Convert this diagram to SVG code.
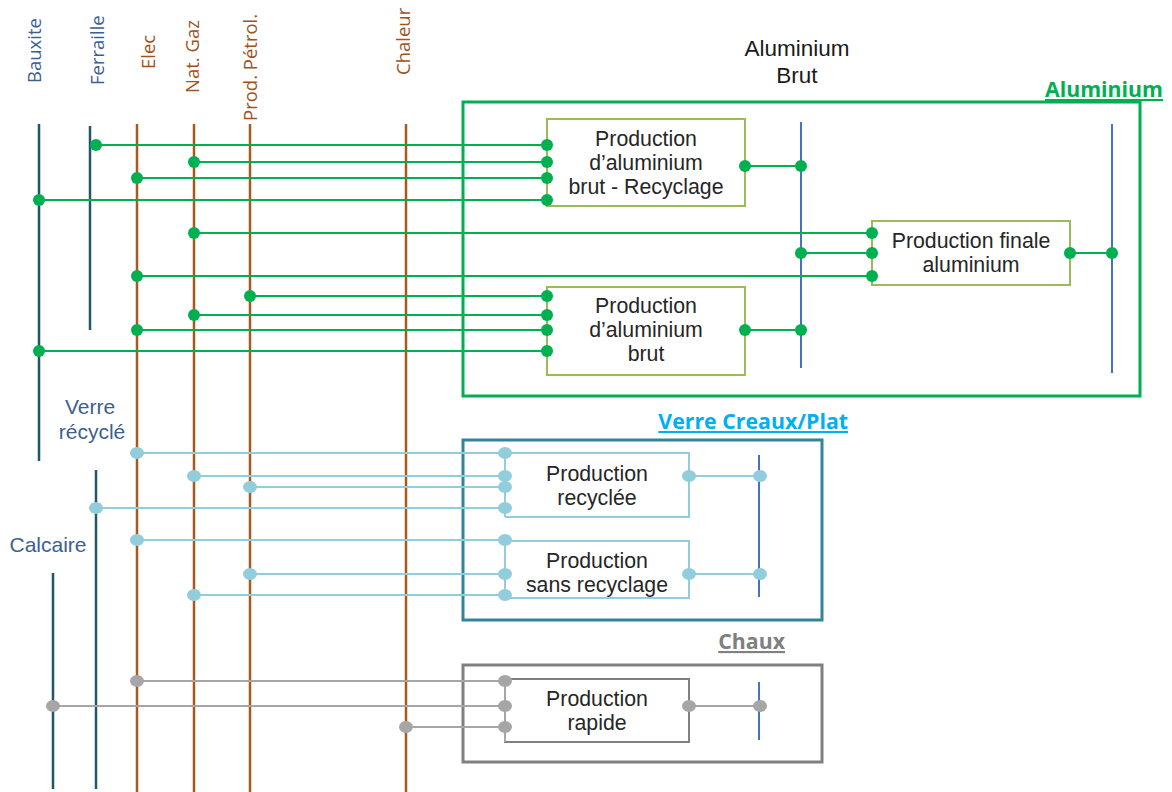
<svg xmlns="http://www.w3.org/2000/svg" width="1172" height="792" viewBox="0 0 1172 792">
<style>
text{font-family:"Open Sans","Liberation Sans",sans-serif}
.lbl{font-size:18.5px}
.mat{fill:#3D5F91}
.nrg{fill:#A0521B}
.side{font-family:"Liberation Sans",Arial,sans-serif;font-size:21px;fill:#3D5F91;text-anchor:middle}
.box{font-family:"Liberation Sans",Arial,sans-serif;font-size:21.3px;fill:#262626;text-anchor:middle}
.ab{font-family:"Liberation Sans",Arial,sans-serif;font-size:22.5px;fill:#1a1a1a;text-anchor:middle}
.hdr{font-size:21.3px;font-weight:bold;text-anchor:end;text-decoration:underline}
.vm{stroke:#215868;stroke-width:2.5}
.ve{stroke:#A65A1E;stroke-width:2.5}
.bus{stroke:#4472C4;stroke-width:2}
.g{stroke:#00B050;stroke-width:2;fill:none}
.b{stroke:#92CDDC;stroke-width:2;fill:none}
.y{stroke:#A6A6A6;stroke-width:2;fill:none}
.gd{fill:#00B050}
.bd{fill:#92CDDC}
.yd{fill:#A6A6A6}
</style>
<rect width="1172" height="792" fill="#fff"/>

<g id="resources">
<line class="vm" x1="39" y1="124" x2="39" y2="461"/>
<line class="vm" x1="90" y1="126" x2="90" y2="330"/>
<line class="ve" x1="137" y1="124" x2="137" y2="792"/>
<line class="ve" x1="194" y1="124" x2="194" y2="792"/>
<line class="ve" x1="250" y1="124" x2="250" y2="792"/>
<line class="ve" x1="406" y1="124" x2="406" y2="792"/>
<line class="vm" x1="96" y1="470" x2="96" y2="789"/>
<line class="vm" x1="53" y1="573" x2="53" y2="789"/>
<text class="lbl mat" transform="translate(41,83) rotate(-90)">Bauxite</text>
<text class="lbl mat" transform="translate(104,85) rotate(-90)">Ferraille</text>
<text class="lbl nrg" transform="translate(155,69) rotate(-90)">Elec</text>
<text class="lbl nrg" transform="translate(199,93) rotate(-90)">Nat. Gaz</text>
<text class="lbl nrg" transform="translate(257,121) rotate(-90)">Prod. Pétrol.</text>
<text class="lbl nrg" transform="translate(410,75) rotate(-90)">Chaleur</text>
<text class="side" x="90" y="414">Verre<tspan x="92" dy="25">récyclé</tspan></text>
<text class="side" x="48" y="552">Calcaire</text>
</g>

<g id="aluminium">
<rect x="463" y="102" width="677" height="294" fill="none" stroke="#00B050" stroke-width="3"/>
<text class="hdr" x="1163" y="97" fill="#00B050">Aluminium</text>
<text class="ab" x="797" y="56">Aluminium<tspan x="797" dy="27">Brut</tspan></text>
<line class="bus" x1="801" y1="122" x2="801" y2="368"/>
<line class="bus" x1="1112" y1="124" x2="1112" y2="373"/>
</g>
<g id="prod-alu-recyclage">
<rect x="547" y="119" width="198" height="87" fill="#fff" stroke="#9BBB59" stroke-width="2"/>
<text class="box" x="646" y="146">Production<tspan x="646" dy="24">d’aluminium</tspan><tspan x="646" dy="24">brut - Recyclage</tspan></text>
</g>
<g id="prod-finale-alu">
<rect x="872" y="221" width="198" height="64" fill="#fff" stroke="#9BBB59" stroke-width="2"/>
<text class="box" x="971" y="248">Production finale<tspan x="971" dy="24">aluminium</tspan></text>
</g>
<g id="prod-alu-brut">
<rect x="547" y="287" width="198" height="88" fill="#fff" stroke="#9BBB59" stroke-width="2"/>
<text class="box" x="646" y="313">Production<tspan x="646" dy="24">d’aluminium</tspan><tspan x="646" dy="24">brut</tspan></text>
</g>

<g id="verre">
<rect x="463" y="440" width="359" height="180" fill="none" stroke="#31849B" stroke-width="3"/>
<text class="hdr" x="848" y="429" fill="#00B0F0">Verre Creaux/Plat</text>
<line class="bus" x1="759" y1="455" x2="759" y2="597"/>
</g>
<g id="prod-recyclee">
<polyline class="b" points="505,453 689,453 689,517 505,517"/>
<text class="box" x="597" y="481">Production<tspan x="597" dy="24">recyclée</tspan></text>
</g>
<g id="prod-sans-recyclage">
<polyline class="b" points="505,541 689,541 689,598 505,598"/>
<text class="box" x="597" y="568">Production<tspan x="597" dy="24">sans recyclage</tspan></text>
</g>

<g id="chaux">
<rect x="463" y="665" width="359" height="97" fill="none" stroke="#808080" stroke-width="3"/>
<text class="hdr" x="785" y="649" fill="#808080">Chaux</text>
<line class="bus" x1="759" y1="682" x2="759" y2="740"/>
</g>
<g id="prod-rapide">
<rect x="505" y="679" width="184" height="63" fill="#fff" stroke="#808080" stroke-width="2"/>
<text class="box" x="597" y="706">Production<tspan x="597" dy="24">rapide</tspan></text>
</g>

<g id="connectors">
<path class="g" d="M96 145H547M194 162H547M137 178H547M39 200H547M194 233H872M137 276H872M250 296H547M194 315H547M137 330H547M39 351H547M745 166H801M801 253H872M745 330H801M1070 253H1112"/>
<path class="b" d="M505 453V517M505 541V598M137 453H505M194 476H505M250 487H505M96 508H505M137 540H505M250 574H505M194 595H505M689 476H760M689 574H760"/>
<path class="y" d="M505 679V742M137 681H505M53 706H505M406 727H505M689 706H760"/>
<g class="gd">
<circle cx="96" cy="145" r="6"/><circle cx="194" cy="162" r="6"/><circle cx="137" cy="178" r="6"/><circle cx="39" cy="200" r="6"/>
<circle cx="547" cy="145" r="6"/><circle cx="547" cy="162" r="6"/><circle cx="547" cy="178" r="6"/><circle cx="547" cy="200" r="6"/>
<circle cx="194" cy="233" r="6"/><circle cx="137" cy="276" r="6"/><circle cx="872" cy="233" r="6"/><circle cx="872" cy="253" r="6"/><circle cx="872" cy="276" r="6"/>
<circle cx="250" cy="296" r="6"/><circle cx="194" cy="315" r="6"/><circle cx="137" cy="330" r="6"/><circle cx="39" cy="351" r="6"/>
<circle cx="547" cy="296" r="6"/><circle cx="547" cy="315" r="6"/><circle cx="547" cy="330" r="6"/><circle cx="547" cy="351" r="6"/>
<circle cx="745" cy="166" r="6"/><circle cx="801" cy="166" r="6"/><circle cx="801" cy="253" r="6"/><circle cx="745" cy="330" r="6"/><circle cx="801" cy="330" r="6"/>
<circle cx="1070" cy="253" r="6"/><circle cx="1112" cy="253" r="6"/>
</g>
<g class="bd">
<ellipse cx="137" cy="453" rx="7" ry="6"/><ellipse cx="194" cy="476" rx="7" ry="6"/><ellipse cx="250" cy="487" rx="7" ry="6"/><ellipse cx="96" cy="508" rx="7" ry="6"/>
<ellipse cx="137" cy="540" rx="7" ry="6"/><ellipse cx="250" cy="574" rx="7" ry="6"/><ellipse cx="194" cy="595" rx="7" ry="6"/>
<ellipse cx="505" cy="453" rx="7" ry="6"/><ellipse cx="505" cy="476" rx="7" ry="6"/><ellipse cx="505" cy="487" rx="7" ry="6"/><ellipse cx="505" cy="508" rx="7" ry="6"/>
<ellipse cx="505" cy="540" rx="7" ry="6"/><ellipse cx="505" cy="574" rx="7" ry="6"/><ellipse cx="505" cy="595" rx="7" ry="6"/>
<ellipse cx="689" cy="476" rx="7" ry="6"/><ellipse cx="760" cy="476" rx="7" ry="6"/><ellipse cx="689" cy="574" rx="7" ry="6"/><ellipse cx="760" cy="574" rx="7" ry="6"/>
</g>
<g class="yd">
<ellipse cx="137" cy="681" rx="7" ry="6"/><ellipse cx="53" cy="706" rx="7" ry="6"/><ellipse cx="406" cy="727" rx="7" ry="6"/>
<ellipse cx="505" cy="681" rx="7" ry="6"/><ellipse cx="505" cy="706" rx="7" ry="6"/><ellipse cx="505" cy="727" rx="7" ry="6"/>
<ellipse cx="689" cy="706" rx="7" ry="6"/><ellipse cx="760" cy="706" rx="7" ry="6"/>
</g>
</g>
</svg>
